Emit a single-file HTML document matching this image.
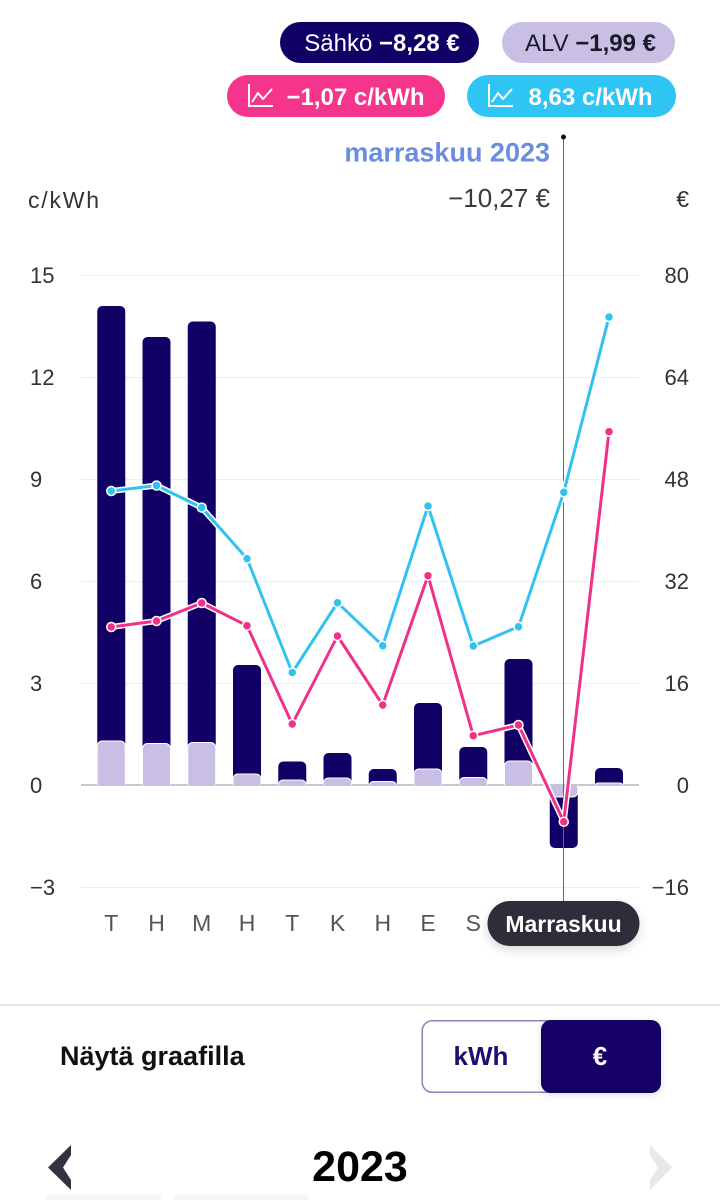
<!DOCTYPE html>
<html><head><meta charset="utf-8"><style>
html,body{margin:0;padding:0;background:#fff;}
svg{display:block;}
text{font-family:"Liberation Sans",sans-serif;}
</style></head><body>
<svg width="720" height="1200" viewBox="0 0 720 1200" xmlns="http://www.w3.org/2000/svg">
<defs>
  <clipPath id="cp"><rect x="0" y="0" width="720" height="785"/></clipPath>
  <clipPath id="cn"><rect x="0" y="785" width="720" height="200"/></clipPath>
  <filter id="sh" x="-20%" y="-30%" width="140%" height="180%">
    <feDropShadow dx="0" dy="4" stdDeviation="5" flood-color="#000" flood-opacity="0.15"/>
  </filter>
  <filter id="sh2" x="-20%" y="-30%" width="140%" height="180%">
    <feDropShadow dx="0" dy="2" stdDeviation="4" flood-color="#000" flood-opacity="0.12"/>
  </filter>
</defs>

<!-- Top pills -->
<rect x="280" y="22" width="199" height="41" rx="20.5" fill="#130066"/>
<text x="382" y="51" font-size="24" fill="#fff" text-anchor="middle">Sähkö <tspan font-weight="bold">−8,28 €</tspan></text>
<rect x="502" y="22" width="173" height="41" rx="20.5" fill="#c9bfe4"/>
<text x="590.5" y="51" font-size="24" fill="#1b1b2b" text-anchor="middle">ALV <tspan font-weight="bold">−1,99 €</tspan></text>

<rect x="227" y="75" width="218" height="42" rx="21" fill="#f5358b"/>
<path d="M249 84 V106 H273" stroke="#fff" stroke-width="2" fill="none"/>
<polyline points="252,102 258,93 263,99 272,89" stroke="#fff" stroke-width="2" fill="none"/>
<text x="355.5" y="105" font-size="24" font-weight="bold" fill="#fff" text-anchor="middle">−1,07 c/kWh</text>

<rect x="467" y="75" width="209" height="42" rx="21" fill="#2ec5f5"/>
<path d="M489 84 V106 H513" stroke="#fff" stroke-width="2" fill="none"/>
<polyline points="492,102 498,93 503,99 512,89" stroke="#fff" stroke-width="2" fill="none"/>
<text x="590.5" y="105" font-size="24" font-weight="bold" fill="#fff" text-anchor="middle">8,63 c/kWh</text>

<!-- Header -->
<text x="550" y="161.5" font-size="27" font-weight="bold" fill="#6b8de0" text-anchor="end">marraskuu 2023</text>
<text x="550" y="207" font-size="26" fill="#3a3a3a" text-anchor="end">−10,27 €</text>
<text x="28" y="208" font-size="23" fill="#333" letter-spacing="1.8">c/kWh</text>
<text x="689" y="207" font-size="23" fill="#333" text-anchor="end">€</text>

<!-- Grid -->
<g stroke="#ededf0" stroke-width="1">
  <line x1="81" y1="275.5" x2="639" y2="275.5"/>
  <line x1="81" y1="377.5" x2="639" y2="377.5"/>
  <line x1="81" y1="479.5" x2="639" y2="479.5"/>
  <line x1="81" y1="581.5" x2="639" y2="581.5"/>
  <line x1="81" y1="683.5" x2="639" y2="683.5"/>
  <line x1="81" y1="887.5" x2="639" y2="887.5"/>
</g>
<line x1="81" y1="785" x2="639" y2="785" stroke="#c8c8cc" stroke-width="2"/>

<!-- Left axis -->
<g font-size="22" fill="#333">
  <text x="30" y="283">15</text>
  <text x="30" y="385">12</text>
  <text x="30" y="487">9</text>
  <text x="30" y="589">6</text>
  <text x="30" y="691">3</text>
  <text x="30" y="793">0</text>
  <text x="30" y="895">−3</text>
</g>
<!-- Right axis -->
<g font-size="22" fill="#333" text-anchor="end">
  <text x="689" y="283">80</text>
  <text x="689" y="385">64</text>
  <text x="689" y="487">48</text>
  <text x="689" y="589">32</text>
  <text x="689" y="691">16</text>
  <text x="689" y="793">0</text>
  <text x="689" y="895">−16</text>
</g>

<!-- Bars positive -->
<g clip-path="url(#cp)">
  <g fill="#130066">
    <rect x="97.25" y="306" width="28" height="490" rx="5"/>
    <rect x="142.5" y="337" width="28" height="460" rx="5"/>
    <rect x="187.75" y="321.5" width="28" height="475" rx="5"/>
    <rect x="233" y="665" width="28" height="130" rx="5"/>
    <rect x="278.25" y="761.5" width="28" height="40" rx="5"/>
    <rect x="323.5" y="753" width="28" height="45" rx="5"/>
    <rect x="368.75" y="769" width="28" height="30" rx="5"/>
    <rect x="414" y="703" width="28" height="95" rx="5"/>
    <rect x="459.25" y="747" width="28" height="50" rx="5"/>
    <rect x="504.5" y="659" width="28" height="140" rx="5"/>
    <rect x="595" y="768" width="28" height="30" rx="5"/>
  </g>
  <g fill="#c9bfe4" stroke="#fff" stroke-width="1">
    <rect x="97.25" y="741" width="28" height="60" rx="5"/>
    <rect x="142.5" y="743.5" width="28" height="60" rx="5"/>
    <rect x="187.75" y="742.5" width="28" height="60" rx="5"/>
    <rect x="233" y="774" width="28" height="30" rx="5"/>
    <rect x="278.25" y="780" width="28" height="30" rx="5"/>
    <rect x="323.5" y="778" width="28" height="30" rx="5"/>
    <rect x="368.75" y="781.5" width="28" height="30" rx="5"/>
    <rect x="414" y="769" width="28" height="40" rx="5"/>
    <rect x="459.25" y="777.5" width="28" height="30" rx="5"/>
    <rect x="504.5" y="761" width="28" height="40" rx="5"/>
    <rect x="595" y="783" width="28" height="20" rx="3"/>
  </g>
</g>
<!-- Bar negative -->
<g clip-path="url(#cn)">
  <rect x="549.75" y="770" width="28" height="78" rx="5" fill="#130066"/>
  <rect x="549.75" y="770" width="28" height="27" rx="5" fill="#c9bfe4" stroke="#fff" stroke-width="1"/>
</g>

<!-- Crosshair -->
<line x1="563.5" y1="137" x2="563.5" y2="902" stroke="#666" stroke-width="1"/>
<circle cx="563.5" cy="137" r="2.5" fill="#111"/>

<!-- Lines -->
<g fill="none" stroke-linejoin="round" stroke-linecap="round">
  <polyline points="111.25,491 156.5,485.5 201.75,507.6 247,558.6 292.25,672.5 337.5,602.7 382.75,645.7 428,506 473.25,646 518.5,626.7 563.75,492.3 609,317" stroke="#fff" stroke-width="6"/>
  <polyline points="111.25,491 156.5,485.5 201.75,507.6 247,558.6 292.25,672.5 337.5,602.7 382.75,645.7 428,506 473.25,646 518.5,626.7 563.75,492.3 609,317" stroke="#31c2f0" stroke-width="3"/>
  <polyline points="111.25,627 156.5,621 201.75,603 247,625.7 292.25,724 337.5,636 382.75,705 428,575.7 473.25,735.7 518.5,725 563.75,821.7 609,431.7" stroke="#fff" stroke-width="6"/>
  <polyline points="111.25,627 156.5,621 201.75,603 247,625.7 292.25,724 337.5,636 382.75,705 428,575.7 473.25,735.7 518.5,725 563.75,821.7 609,431.7" stroke="#ef3289" stroke-width="3"/>
</g>
<g fill="#31c2f0" stroke="#fff" stroke-width="1.5">
  <circle cx="111.25" cy="491" r="4.5"/><circle cx="156.5" cy="485.5" r="4.5"/><circle cx="201.75" cy="507.6" r="4.5"/>
  <circle cx="247" cy="558.6" r="4.5"/><circle cx="292.25" cy="672.5" r="4.5"/><circle cx="337.5" cy="602.7" r="4.5"/>
  <circle cx="382.75" cy="645.7" r="4.5"/><circle cx="428" cy="506" r="4.5"/><circle cx="473.25" cy="646" r="4.5"/>
  <circle cx="518.5" cy="626.7" r="4.5"/><circle cx="563.75" cy="492.3" r="4.5"/><circle cx="609" cy="317" r="4.5"/>
</g>
<g fill="#ef3289" stroke="#fff" stroke-width="1.5">
  <circle cx="111.25" cy="627" r="4.5"/><circle cx="156.5" cy="621" r="4.5"/><circle cx="201.75" cy="603" r="4.5"/>
  <circle cx="247" cy="625.7" r="4.5"/><circle cx="292.25" cy="724" r="4.5"/><circle cx="337.5" cy="636" r="4.5"/>
  <circle cx="382.75" cy="705" r="4.5"/><circle cx="428" cy="575.7" r="4.5"/><circle cx="473.25" cy="735.7" r="4.5"/>
  <circle cx="518.5" cy="725" r="4.5"/><circle cx="563.75" cy="821.7" r="4.5"/><circle cx="609" cy="431.7" r="4.5"/>
</g>

<!-- X labels -->
<g font-size="23" fill="#555" text-anchor="middle">
  <text x="111.25" y="931">T</text>
  <text x="156.5" y="931">H</text>
  <text x="201.75" y="931">M</text>
  <text x="247" y="931">H</text>
  <text x="292.25" y="931">T</text>
  <text x="337.5" y="931">K</text>
  <text x="382.75" y="931">H</text>
  <text x="428" y="931">E</text>
  <text x="473.25" y="931">S</text>
</g>
<!-- Tooltip -->
<rect x="487.5" y="901" width="152" height="45" rx="22.5" fill="#2f2f3a" filter="url(#sh)"/>
<text x="563.5" y="932" font-size="23" font-weight="bold" fill="#fff" text-anchor="middle">Marraskuu</text>

<!-- Separator -->
<rect x="0" y="1004" width="720" height="2" fill="#e4e4e8"/>

<!-- Toggle row -->
<text x="60" y="1065" font-size="27" font-weight="bold" fill="#111">Näytä graafilla</text>
<rect x="422.25" y="1020.75" width="238" height="71.5" rx="10" fill="#fff" stroke="#8a82bb" stroke-width="1.5"/>
<text x="481" y="1065" font-size="26" font-weight="bold" fill="#1c0f6e" text-anchor="middle">kWh</text>
<rect x="541" y="1020" width="120" height="73" rx="10" fill="#130066" filter="url(#sh2)"/>
<text x="600" y="1065" font-size="26" font-weight="bold" fill="#fff" text-anchor="middle">€</text>

<!-- Year nav -->
<polygon points="71,1145 48,1167.5 71,1190 71,1180 63,1167.5 71,1155" fill="#33333f"/>
<polygon points="650,1145 672,1167.5 650,1190 650,1180 658,1167.5 650,1155" fill="#e8e8ec"/>
<text x="360" y="1181" font-size="43" font-weight="bold" fill="#000" text-anchor="middle">2023</text>

<!-- faint bottom shapes -->
<rect x="46" y="1195" width="115" height="5" fill="#f5f5f7"/>
<rect x="174" y="1195" width="134" height="5" fill="#f5f5f7"/>
</svg>
</body></html>
